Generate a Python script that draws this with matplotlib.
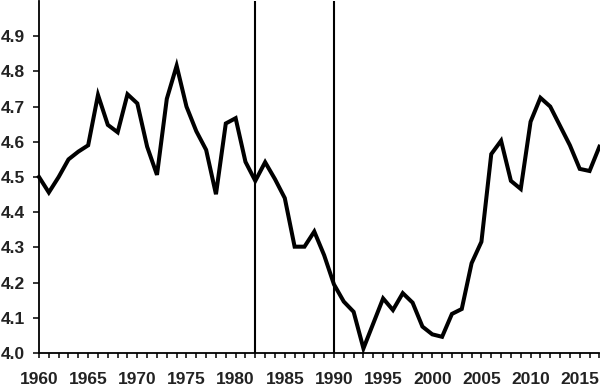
import matplotlib
matplotlib.use("Agg")
import matplotlib.pyplot as plt
from matplotlib.ticker import MultipleLocator

years = list(range(1960, 2018))
values = [4.50, 4.456, 4.50, 4.55, 4.572, 4.59, 4.733, 4.648, 4.627, 4.735,
          4.709, 4.586, 4.506, 4.722, 4.816, 4.70, 4.63, 4.577, 4.451, 4.652,
          4.667, 4.543, 4.489, 4.542, 4.494, 4.44, 4.302, 4.302, 4.345, 4.278,
          4.195, 4.146, 4.117, 4.013, 4.084, 4.155, 4.122, 4.17, 4.143, 4.075,
          4.053, 4.046, 4.111, 4.125, 4.255, 4.316, 4.565, 4.603, 4.489, 4.466,
          4.657, 4.725, 4.70, 4.645, 4.59, 4.523, 4.517, 4.586]
vlines = [1982, 1990]
yticks = [4.0, 4.1, 4.2, 4.3, 4.4, 4.5, 4.6, 4.7, 4.8, 4.9]
xticks = list(range(1960, 2017, 5))

plt.rcParams['font.family'] = ['Liberation Sans', 'DejaVu Sans']

fig = plt.figure(figsize=(6, 3.86), dpi=100)
ax = fig.add_axes([0.065, 0.0855, 0.934, 0.912])
ax.plot(years, values, color='black', lw=2.9, solid_joinstyle='miter', clip_on=False, zorder=3)
for v in vlines:
    ax.axvline(v, color='black', lw=1.5)

ax.set_xlim(1960, 2017)
ax.set_ylim(4.0, 5.0)
ax.set_yticks(yticks)
ax.set_yticklabels([f"{t:.1f}" for t in yticks])
ax.set_xticks(xticks)
ax.set_xticklabels([str(t) for t in xticks])
ax.xaxis.set_minor_locator(MultipleLocator(1))
for s in ['top', 'right']:
    ax.spines[s].set_visible(False)
for s in ['left', 'bottom']:
    ax.spines[s].set_linewidth(1.3)
ax.tick_params(axis='both', which='both', direction='out', width=1.1, colors='black')
ax.tick_params(axis='x', which='both', length=3.5, pad=10.5)
ax.tick_params(axis='y', length=4.5, pad=5.5)
for lbl in ax.get_xticklabels() + ax.get_yticklabels():
    lbl.set_fontsize(12.5)
    lbl.set_fontweight('bold')
    lbl.set_color('#222222')

fig.savefig('out.png', dpi=100)
